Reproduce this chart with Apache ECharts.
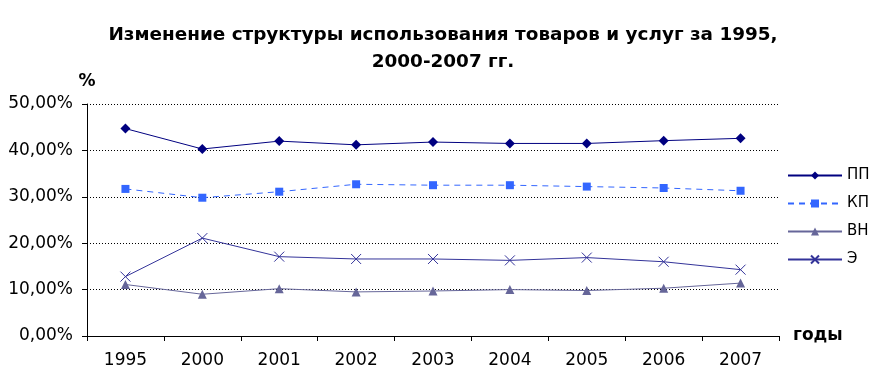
<!DOCTYPE html>
<html><head><meta charset="utf-8">
<script src="https://cdn.jsdelivr.net/npm/echarts@6/dist/echarts.min.js"></script>
<style>html,body{margin:0;padding:0;background:#fff}#c{width:882px;height:389px}</style>
</head><body><div id="c"></div>
<script>
const categories = ['1995','2000','2001','2002','2003','2004','2005','2006','2007'];
const seriesNames = ['ПП','КП','ВН','Э'];
const pp = [44.7, 40.3, 42.0, 41.2, 41.8, 41.5, 41.5, 42.1, 42.6];
const kp = [31.7, 29.8, 31.1, 32.7, 32.5, 32.5, 32.2, 31.9, 31.3];
const vn = [11.1, 9.0, 10.2, 9.5, 9.7, 10.0, 9.8, 10.3, 11.4];
const e  = [12.8, 21.1, 17.1, 16.6, 16.6, 16.3, 16.9, 16.0, 14.3];
const yTicks = [0, 10, 20, 30, 40, 50];

const font = 'DejaVu Sans, Verdana, sans-serif';
const chart = echarts.init(document.getElementById('c'));
const mk = (name, data, color, symbol, size, dashed, extra) => Object.assign({
  name, type: 'line', data, symbol, symbolSize: size,
  lineStyle: { color, width: 1, type: dashed ? [6, 5] : 'solid' },
  itemStyle: { color },
  emphasis: { disabled: true }, animation: false
}, extra || {});
chart.setOption({
  animation: false,
  title: {
    text: 'Изменение структуры использования товаров и услуг за 1995,\n2000-2007 гг.',
    left: 438, textAlign: 'center', top: 17,
    textStyle: { fontFamily: font, fontWeight: 'bold', fontSize: 18.4, lineHeight: 27, color: '#000' }
  },
  legend: {
    orient: 'vertical', left: 782, top: 163, itemGap: 13, itemWidth: 54, itemHeight: 10,
    textStyle: { fontFamily: font, fontSize: 15, color: '#000' },
    data: seriesNames
  },
  grid: { left: 87, right: 103, top: 104, bottom: 53, containLabel: false },
  xAxis: {
    type: 'category', data: categories, boundaryGap: true,
    axisLine: { lineStyle: { color: '#000', width: 1 } },
    axisTick: { show: true, length: 5, inside: false, lineStyle: { color: '#000' } },
    axisLabel: { fontFamily: font, fontSize: 17, color: '#000', margin: 16 },
    name: 'годы', nameLocation: 'end', nameGap: 14,
    nameTextStyle: { fontFamily: font, fontSize: 17, fontWeight: 'bold', color: '#000', verticalAlign: 'middle' }
  },
  yAxis: {
    type: 'value', min: 0, max: 50, interval: 10,
    axisLine: { show: true, lineStyle: { color: '#000', width: 1 } },
    axisTick: { show: true, length: 5, lineStyle: { color: '#000' } },
    splitLine: { show: true, lineStyle: { color: '#000', type: [1, 2], width: 1 } },
    axisLabel: { fontFamily: font, fontSize: 17, color: '#000', margin: 14,
      formatter: v => v.toFixed(2).replace('.', ',') + '%' },
    name: '%', nameLocation: 'end', nameGap: 14,
    nameTextStyle: { fontFamily: font, fontSize: 17, fontWeight: 'bold', color: '#000', align: 'center' }
  },
  series: [
    mk('ПП', pp, '#000080', 'diamond', 10, false),
    mk('КП', kp, '#3366FF', 'rect', 8, true),
    mk('ВН', vn, '#666699', 'triangle', 9, false),
    mk('Э', e, '#333399', 'path://M0,0L10,10M10,0L0,10', 10, false,
      { itemStyle: { color: 'none', borderColor: '#333399', borderWidth: 1 } })
  ]
});
</script></body></html>
